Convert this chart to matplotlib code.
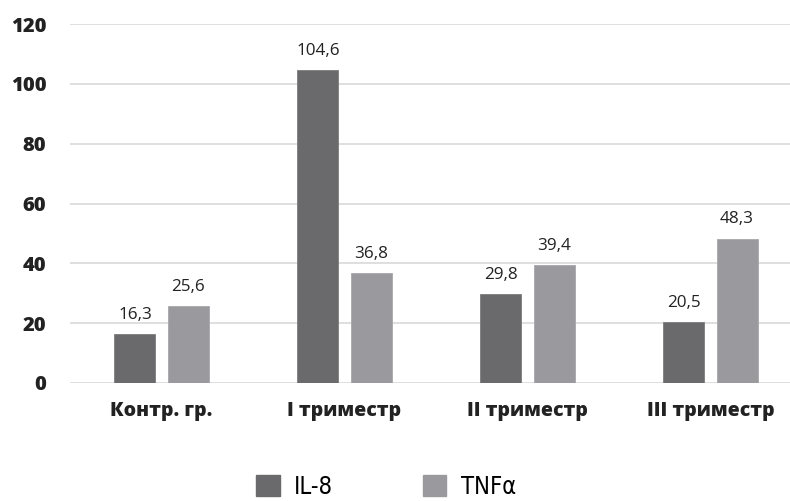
import matplotlib.pyplot as plt
import numpy as np
from matplotlib.patches import Patch
from matplotlib.font_manager import FontProperties

categories = ['Контр. гр.', 'I триместр', 'II триместр', 'III триместр']
il8 = [16.3, 104.6, 29.8, 20.5]
tnf = [25.6, 36.8, 39.4, 48.3]
yticks = [0, 20, 40, 60, 80, 100, 120]

c_il8 = '#6a6a6c'
c_tnf = '#9a9a9e'

fig = plt.figure(figsize=(7.9, 5.01), dpi=100)
ax = fig.add_axes([70 / 790, 1 - 383 / 501, 732 / 790, 359 / 501])

x = np.arange(len(categories))
w = 0.224
off = 0.145
b1 = ax.bar(x - off, il8, w, color=c_il8, edgecolor='#7c7c7e', lw=0.6)
b2 = ax.bar(x + off, tnf, w, color=c_tnf, edgecolor='#a8a8ac', lw=0.6)

for bars, vals in ((b1, il8), (b2, tnf)):
    for r, v in zip(bars, vals):
        ax.annotate(str(v).replace('.', ','), (r.get_x() + r.get_width() / 2, v),
                    xytext=(0, 8), textcoords='offset points', ha='center', va='bottom',
                    fontsize=12.3, family='Open Sans', color='#222222')

ax.set_xlim(-0.5, 3.5)
ax.set_ylim(0, 120)
ax.set_yticks(yticks)
ax.set_yticklabels([str(t) for t in yticks], fontsize=14.5, fontweight=800, family='Open Sans', color='#222222')
ax.set_xticks(x)
ax.set_xticklabels(categories, fontsize=14, fontweight=800, family='Open Sans', color='#222222')
ax.tick_params(axis='y', length=0, pad=17)
ax.tick_params(axis='x', length=0, pad=13)
ax.grid(axis='y', color='#d9d9d9', lw=1.2)
ax.set_axisbelow(True)
for s in ax.spines.values():
    s.set_visible(False)

handles = [Patch(color=c_il8), Patch(color=c_tnf)]
leg_font = FontProperties(family=['DejaVu Sans'], stretch='condensed', size=17)
fig.legend(handles, ['IL-8', 'TNFα'], loc='center', bbox_to_anchor=(386 / 790, 1 - 487 / 501),
           ncol=2, frameon=False, handlelength=1.0, handleheight=1.0,
           columnspacing=3.8, handletextpad=0.6, prop=leg_font)

fig.savefig('out.png', dpi=100)
